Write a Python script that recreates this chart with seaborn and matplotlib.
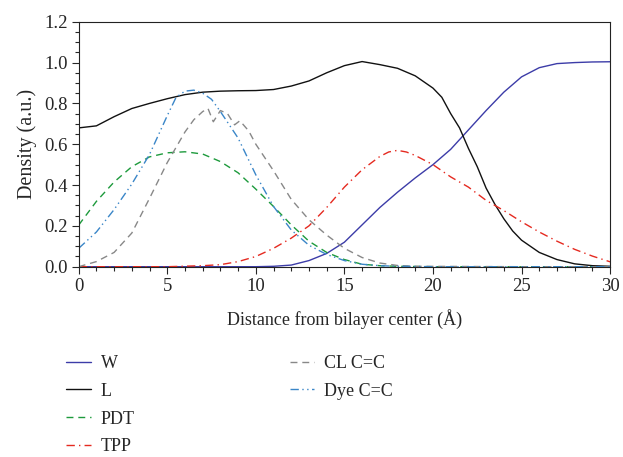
import matplotlib
matplotlib.use('Agg')
import matplotlib.pyplot as plt
from matplotlib.lines import Line2D
from matplotlib.ticker import MultipleLocator, FormatStrFormatter
import seaborn as sns
import pandas as pd

# Density profiles (distance in Angstrom, density in a.u.)
w_x = [0, 5, 10, 11, 12, 13, 14, 15, 16, 17, 18, 19, 20, 21, 22, 23, 24, 25, 26, 27, 28, 29, 30]
w_y = [0.0, 0.0, 0.0, 0.002, 0.008, 0.03, 0.065, 0.12, 0.205, 0.29, 0.365, 0.435, 0.50, 0.575,
       0.67, 0.765, 0.855, 0.93, 0.975, 0.995, 1.0, 1.003, 1.004]

l_x = [0, 1, 2, 3, 4, 5, 6, 7, 8, 9, 10, 11, 12, 13, 14, 15, 16, 17, 18, 19, 20, 20.5, 21,
       21.5, 22, 22.5, 23, 23.5, 24, 24.5, 25, 26, 27, 28, 29, 30]
l_y = [0.68, 0.69, 0.735, 0.775, 0.80, 0.823, 0.843, 0.855, 0.86, 0.862, 0.863, 0.868, 0.885,
       0.91, 0.95, 0.985, 1.005, 0.99, 0.972, 0.935, 0.875, 0.83, 0.75, 0.68, 0.58, 0.49, 0.385,
       0.305, 0.235, 0.175, 0.13, 0.07, 0.035, 0.014, 0.005, 0.002]

pdt_x = [0, 1, 2, 3, 4, 5, 6, 7, 8, 9, 10, 11, 12, 13, 14, 15, 16, 17, 18, 20, 25, 30]
pdt_y = [0.204, 0.32, 0.415, 0.49, 0.538, 0.558, 0.563, 0.552, 0.515, 0.46, 0.38, 0.295, 0.205,
         0.125, 0.07, 0.035, 0.012, 0.005, 0.002, 0.0, 0.0, 0.0]

tpp_x = [0, 5, 7, 8, 9, 10, 11, 12, 13, 14, 15, 16, 17, 17.5, 18, 18.5, 19, 20, 21, 22, 23, 24,
         25, 26, 27, 28, 29, 30]
tpp_y = [0.0, 0.0, 0.005, 0.01, 0.025, 0.05, 0.09, 0.14, 0.2, 0.29, 0.39, 0.475, 0.54, 0.562,
         0.57, 0.562, 0.545, 0.50, 0.44, 0.39, 0.325, 0.275, 0.22, 0.17, 0.125, 0.085, 0.052, 0.024]

cl_x = [0, 1, 2, 3, 4, 5, 6, 6.5, 7, 7.3, 7.6, 8.0, 8.4, 8.8, 9.1, 9.6, 10, 11, 12, 13, 14, 15,
        16, 17, 18, 19, 25, 30]
cl_y = [0.0, 0.025, 0.07, 0.165, 0.335, 0.51, 0.66, 0.72, 0.76, 0.775, 0.71, 0.765, 0.75, 0.695,
        0.715, 0.665, 0.60, 0.47, 0.33, 0.23, 0.155, 0.09, 0.045, 0.018, 0.006, 0.002, 0.0, 0.0]

dye_x = [0, 1, 2, 3, 4, 5, 5.5, 6, 6.5, 7, 7.5, 8, 9, 10, 11, 12, 13, 14, 15, 16, 17, 18, 20,
         25, 30]
dye_y = [0.09, 0.17, 0.28, 0.405, 0.55, 0.74, 0.83, 0.86, 0.865, 0.85, 0.82, 0.76, 0.63, 0.45,
         0.295, 0.18, 0.105, 0.06, 0.03, 0.012, 0.005, 0.002, 0.0, 0.0, 0.0]

labels = ['W', 'L', 'PDT', 'TPP', 'CL C=C', 'Dye C=C']

sns.set_style('ticks')
plt.rcParams['font.family'] = ['Liberation Serif', 'DejaVu Serif']

fig = plt.figure(figsize=(6.23, 4.57), dpi=100)
ax = fig.add_axes([0.1263, 0.4164, 0.853, 0.536])

series = [
    (w_x, w_y, '#3c3ca8', '-'),
    (l_x, l_y, '#111111', '-'),
    (pdt_x, pdt_y, '#1d9a3c', (0, (5, 3.5))),
    (tpp_x, tpp_y, '#e52a20', (0, (6, 3, 1, 3))),
    (cl_x, cl_y, '#888888', (0, (5, 3.5))),
    (dye_x, dye_y, '#3a86c8', (0, (6, 2.5, 1, 2.5, 1, 2.5))),
]

handles = []
for (xs, ys, col, ls), lab in zip(series, labels):
    df = pd.DataFrame({'x': xs, 'y': ys})
    sns.lineplot(data=df, x='x', y='y', ax=ax, color=col, linewidth=1.0, linestyle=ls)
    handles.append(Line2D([], [], color=col, linewidth=1.0, linestyle=ls, label=lab))

ax.set_xlim(0, 30)
ax.set_ylim(0, 1.2)
ax.xaxis.set_major_locator(MultipleLocator(5))
ax.xaxis.set_minor_locator(MultipleLocator(1))
ax.yaxis.set_major_locator(MultipleLocator(0.2))
ax.yaxis.set_minor_locator(MultipleLocator(0.05))
ax.yaxis.set_major_formatter(FormatStrFormatter('%.1f'))
ax.tick_params(which='major', direction='out', length=5, width=0.8, labelsize=13.5, pad=3,
               top=False, right=False)
ax.tick_params(which='minor', direction='out', length=3, width=0.8, top=False, right=False)
for s in ax.spines.values():
    s.set_linewidth(0.8)
    s.set_color('#222222')

ax.set_xlabel('Distance from bilayer center (Å)', fontsize=13, labelpad=10)
ax.set_ylabel('Density (a.u.)', fontsize=14.5, labelpad=5)

# blank entries so the first column holds four items
blank = Line2D([], [], color='none', label='')
leg_handles = handles + [blank, blank]
fig.legend(handles=leg_handles, labels=[h.get_label() for h in leg_handles],
           loc='upper left', bbox_to_anchor=(0.092, 0.243), ncol=2, frameon=False,
           borderpad=0, handlelength=1.35, handletextpad=0.55, columnspacing=8.6,
           labelspacing=0.6, fontsize=13)

fig.savefig('out.png', dpi=100)
